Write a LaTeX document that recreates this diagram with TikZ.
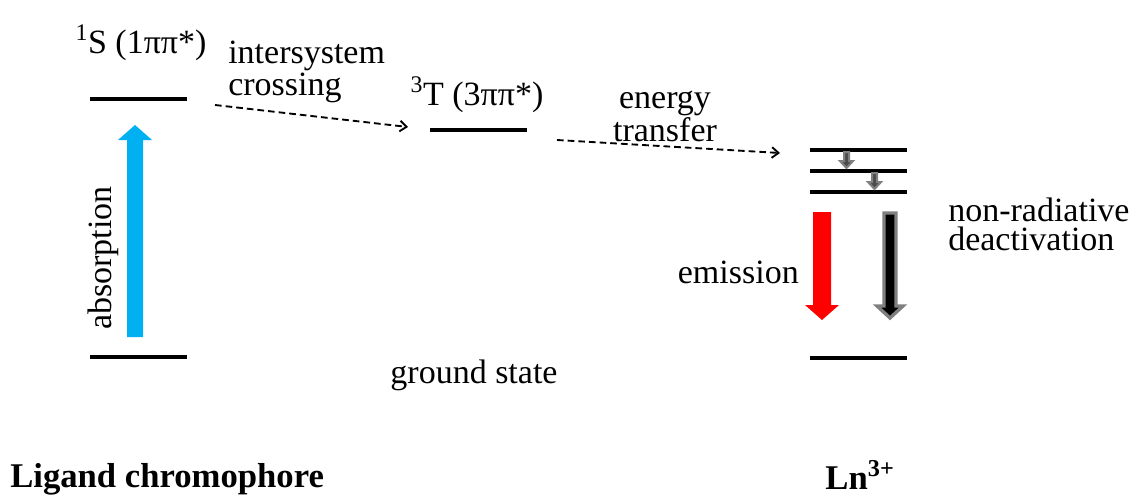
\documentclass[tikz,border=0pt]{standalone}
\usepackage{fontspec}
\setmainfont{Liberation Serif}
\usetikzlibrary{arrows.meta}
\definecolor{absblue}{RGB}{0,176,240}
\definecolor{nrgray}{RGB}{128,128,128}
\begin{document}
\begin{tikzpicture}[x=0.75pt,y=-0.75pt,
  level/.style={line width=3pt},
  lbl/.style={font=\fontsize{25.5}{22}\selectfont, inner sep=0pt},
  twolbl/.style={font=\fontsize{25.5}{21.5}\selectfont, inner sep=0pt},
  boldlbl/.style={font=\fontsize{26}{22}\selectfont\bfseries, inner sep=0pt},
  dasharrow/.style={line width=1.4pt, dash pattern=on 5pt off 3pt, -{Straight Barb[length=5pt,width=8pt]}}
]
\useasboundingbox (0,0) rectangle (1131,497);
% levels
\coordinate (S1) at (90,99); \coordinate (S2) at (187,99);
\coordinate (G1) at (90,357); \coordinate (G2) at (187,357);
\coordinate (T1) at (430,130); \coordinate (T2) at (527,130);
\coordinate (L1a) at (810,150); \coordinate (L1b) at (907,150);
\coordinate (L2a) at (810,171); \coordinate (L2b) at (907,171);
\coordinate (L3a) at (810,192); \coordinate (L3b) at (907,192);
\coordinate (LGa) at (810,358); \coordinate (LGb) at (907,358);
\foreach \a/\b in {S1/S2,G1/G2,T1/T2,L1a/L1b,L2a/L2b,L3a/L3b,LGa/LGb}
  \draw[level] (\a) -- (\b);
% labels
\node[lbl, anchor=base] (slab) at (141,53) {\textsuperscript{1}S (1ππ*)};
\node[twolbl, align=left, anchor=base west] (isc) at (228,95) {intersystem\\crossing};
\node[lbl, anchor=base] (tlab) at (477,105) {\textsuperscript{3}T (3ππ*)};
\node[twolbl, align=center, anchor=base] (et) at (665,141) {energy\\transfer};
\node[lbl, anchor=base east] (em) at (799,283) {emission};
\node[twolbl, align=left, anchor=base west] (nr) at (948,250) {non-radiative\\deactivation};
\node[lbl, anchor=base] (gs) at (474,383) {ground state};
\node[lbl, anchor=center, rotate=90] (abs) at (103,258) {absorption};
\node[boldlbl, anchor=base west] (lig) at (10,487) {Ligand chromophore};
\node[boldlbl, anchor=base] (ln) at (860,489) {Ln\textsuperscript{3+}};
% dashed arrows
\coordinate (d1s) at (215,105); \coordinate (d1e) at (408,127);
\coordinate (d2s) at (557,140); \coordinate (d2e) at (780,153);
\draw[dasharrow] (d1s) -- (d1e);
\draw[dasharrow] (d2s) -- (d2e);
% absorption arrow (block)
\fill[absblue] (127,337) -- (143,337) -- (143,140) -- (152,140) -- (135,125) -- (118,140) -- (127,140) -- cycle;
% emission arrow
\fill[red] (813,212) -- (831,212) -- (831,305) -- (839,305) -- (822,320) -- (805,305) -- (813,305) -- cycle;
% non-radiative arrow
\filldraw[fill=black, draw=nrgray, line width=2.5pt, line join=miter] (884,213) -- (896,213) -- (896,306) -- (903,306) -- (890,318) -- (877,306) -- (884,306) -- cycle;
% small gray arrows
\filldraw[fill=black!70, draw=nrgray, line width=1.5pt] (844,152) -- (849,152) -- (849,161) -- (853,161) -- (846.5,168) -- (840,161) -- (844,161) -- cycle;
\filldraw[fill=black!70, draw=nrgray, line width=1.5pt] (872,173) -- (877,173) -- (877,182) -- (881,182) -- (874.5,189) -- (868,182) -- (872,182) -- cycle;
\end{tikzpicture}
\end{document}
